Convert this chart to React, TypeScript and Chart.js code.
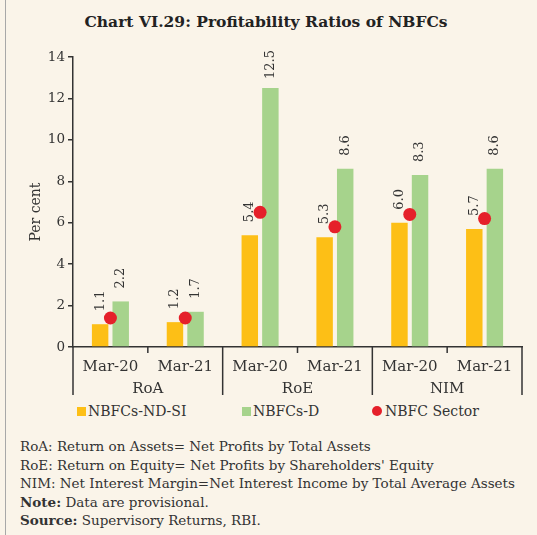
import React, { useEffect, useRef } from "react";
import { Chart, registerables } from "chart.js";

Chart.register(...registerables);

const categories = ["Mar-20", "Mar-21", "Mar-20", "Mar-21", "Mar-20", "Mar-21"];
const groups = ["RoA", "RoE", "NIM"];
const ndSi = [1.1, 1.2, 5.4, 5.3, 6.0, 5.7];
const dSeries = [2.2, 1.7, 12.5, 8.6, 8.3, 8.6];
const sector = [1.4, 1.4, 6.5, 5.8, 6.4, 6.2];
const seriesNames = ["NBFCs-ND-SI", "NBFCs-D", "NBFC Sector"];
const yMax = 14;
const yStep = 2;

const FONT = "'DejaVu Serif', serif";
const TEXT = "#333333";
const BG = "#FAF4E9";
const ORANGE = "#FDBF16";
const GREEN = "#A6D38C";
const RED = "#E5202A";

const footerLines = [
  "RoA: Return on Assets= Net Profits by Total Assets",
  "RoE: Return on Equity= Net Profits by Shareholders' Equity",
  "NIM: Net Interest Margin=Net Interest Income by Total Average Assets",
];

const extrasPlugin = {
  id: "extras",
  afterDatasetsDraw(chart: any) {
    const { ctx, chartArea } = chart;
    const xs = chart.scales.x;
    ctx.save();
    // value labels
    ctx.font = `13px ${FONT}`;
    ctx.fillStyle = TEXT;
    ctx.textBaseline = "middle";
    ctx.textAlign = "left";
    [0, 1].forEach((di) => {
      const meta = chart.getDatasetMeta(di);
      const data = chart.data.datasets[di].data;
      meta.data.forEach((el: any, i: number) => {
        const txt = Number(data[i]).toFixed(1);
        const w = ctx.measureText(txt).width;
        let y = el.y - 13;
        if (y - w < 50) y = 50 + w;
        ctx.save();
        ctx.translate(el.x, y);
        ctx.rotate(-Math.PI / 2);
        ctx.fillText(txt, 0, 0);
        ctx.restore();
      });
    });
    // separators
    ctx.strokeStyle = "#333";
    ctx.lineWidth = 1.5;
    const n = categories.length;
    const per = n / groups.length;
    const boundary = (i: number) => {
      if (i <= 0) return chartArea.left;
      if (i >= n) return chartArea.right;
      return (xs.getPixelForTick(i - 1) + xs.getPixelForTick(i)) / 2;
    };
    for (let i = 0; i <= n; i++) {
      const x = boundary(i);
      const long = i % per === 0;
      ctx.beginPath();
      ctx.moveTo(x, chartArea.bottom);
      ctx.lineTo(x, chartArea.bottom + (long ? 48 : 6));
      ctx.stroke();
    }
    // group labels
    ctx.font = `15px ${FONT}`;
    ctx.textAlign = "center";
    ctx.textBaseline = "middle";
    groups.forEach((g, gi) => {
      const x = (boundary(gi * per) + boundary((gi + 1) * per)) / 2;
      ctx.fillText(g, x, chartArea.bottom + 42);
    });
    // y title
    ctx.font = `14px ${FONT}`;
    ctx.save();
    ctx.translate(36, 212);
    ctx.rotate(-Math.PI / 2);
    ctx.fillText("Per cent", 0, 0);
    ctx.restore();
    ctx.restore();
  },
};

function ChartCanvas() {
  const ref = useRef<HTMLCanvasElement>(null);
  useEffect(() => {
    const chart = new Chart(ref.current as HTMLCanvasElement, {
      type: "bar",
      data: {
        labels: categories,
        datasets: [
          {
            label: seriesNames[0],
            data: ndSi,
            backgroundColor: ORANGE,
            barPercentage: 0.8,
            categoryPercentage: 0.55,
            order: 2,
          },
          {
            label: seriesNames[1],
            data: dSeries,
            backgroundColor: GREEN,
            barPercentage: 0.8,
            categoryPercentage: 0.55,
            order: 2,
          },
          {
            type: "line",
            label: seriesNames[2],
            data: sector,
            showLine: false,
            pointRadius: 6.5,
            pointBackgroundColor: RED,
            pointBorderWidth: 0,
            borderColor: RED,
            order: 0,
          } as any,
        ],
      },
      options: {
        responsive: false,
        maintainAspectRatio: false,
        animation: false,
        layout: { padding: { top: 57, left: 0, right: 15, bottom: 5 } },
        plugins: { legend: { display: false }, tooltip: { enabled: false } },
        scales: {
          x: {
            grid: { display: false, drawTicks: false },
            border: { display: true, color: "#333", width: 1.5 },
            ticks: { color: TEXT, font: { family: FONT, size: 15 }, padding: 11, maxRotation: 0 },
            afterFit: (s: any) => {
              s.height = 48;
            },
          },
          y: {
            min: 0,
            max: yMax,
            ticks: { stepSize: yStep, color: TEXT, font: { family: FONT, size: 13.5 }, padding: 3 },
            grid: { drawOnChartArea: false, drawTicks: true, tickLength: 5, color: "#333", lineWidth: 1.5 },
            border: { display: true, color: "#333", width: 1.5 },
            afterFit: (s: any) => {
              s.width = 73;
            },
          },
        },
      },
      plugins: [extrasPlugin],
    });
    return () => chart.destroy();
  }, []);
  return (
    <canvas
      ref={ref}
      width={537}
      height={400}
      style={{ position: "absolute", left: 0, top: 0, width: 537, height: 400 }}
    />
  );
}

export default function App() {
  const legendItem = (left: number, color: string, round: boolean, label: string) => (
    <div
      key={label}
      style={{ position: "absolute", left, top: 401, height: 20, display: "flex", alignItems: "center" }}
    >
      <span
        style={{
          display: "inline-block",
          width: round ? 10 : 9,
          height: round ? 10 : 9,
          borderRadius: round ? "50%" : 0,
          background: color,
          marginRight: round ? 3 : 2,
        }}
      />
      <span style={{ fontSize: 14, color: TEXT }}>{label}</span>
    </div>
  );
  return (
    <div
      style={{
        position: "absolute",
        left: 0,
        top: 0,
        width: 537,
        height: 535,
        background: BG,
        fontFamily: FONT,
        overflow: "hidden",
      }}
    >
      <div style={{ position: "absolute", left: 5, top: 0, width: 1, height: 535, background: "#A8A8A8" }} />
      <div
        style={{
          position: "absolute",
          left: 0,
          top: 10,
          width: 532,
          textAlign: "center",
          fontWeight: "bold",
          fontSize: 15.5,
          color: "#222",
          lineHeight: "24px",
        }}
      >
        Chart VI.29: Profitability Ratios of NBFCs
      </div>
      <ChartCanvas />
      {legendItem(77, ORANGE, false, seriesNames[0])}
      {legendItem(242, GREEN, false, seriesNames[1])}
      {legendItem(372, RED, true, seriesNames[2])}
      <div
        style={{
          position: "absolute",
          left: 20,
          top: 437,
          fontSize: 13.5,
          lineHeight: "18.5px",
          color: TEXT,
          whiteSpace: "nowrap",
        }}
      >
        {footerLines.map((l) => (
          <div key={l}>{l}</div>
        ))}
        <div>
          <b>Note:</b> Data are provisional.
        </div>
        <div>
          <b>Source:</b> Supervisory Returns, RBI.
        </div>
      </div>
    </div>
  );
}
